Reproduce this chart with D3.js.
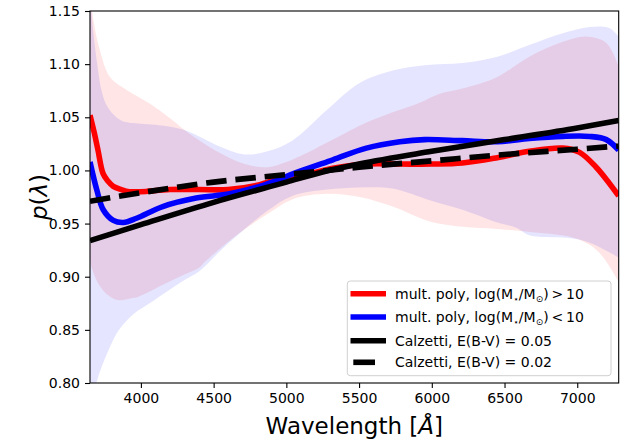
<!DOCTYPE html>
<html>
<head>
<meta charset="utf-8">
<script src="https://cdn.jsdelivr.net/npm/d3@7"></script>
<style>
  html, body { margin: 0; padding: 0; background: #fff; }
  svg { display: block; font-family: "DejaVu Sans", sans-serif; }
</style>
</head>
<body>
<svg id="chart" width="632" height="444"></svg>
<script>
// ---------------- data ----------------
const xTicks = [4000, 4500, 5000, 5500, 6000, 6500, 7000];
const yTicks = [0.80, 0.85, 0.90, 0.95, 1.00, 1.05, 1.10, 1.15];

// red: mult. poly, log(M*/Msun) > 10
const redLine = [[3650,1.052],[3680,1.035],[3705,1.019],[3740,0.997],[3773,0.990],[3810,0.985],[3865,0.982],[3920,0.980],[4000,0.980],[4200,0.982],[4400,0.982],[4600,0.982],[4800,0.986],[4975,0.993],[5160,0.997],[5320,1.002],[5550,1.006],[5780,1.006],[6000,1.006],[6210,1.007],[6450,1.012],[6670,1.018],[6900,1.021],[7016,1.017],[7130,1.003],[7220,0.988],[7285,0.976]];
const redUpper = [[3650,1.19],[3665,1.15],[3718,1.113],[3787,1.088],[3900,1.076],[4060,1.063],[4220,1.047],[4300,1.038],[4405,1.028],[4550,1.016],[4715,1.006],[4870,1.003],[5000,1.008],[5090,1.013],[5320,1.029],[5550,1.045],[5780,1.057],[5920,1.064],[6050,1.072],[6210,1.077],[6450,1.088],[6670,1.107],[6900,1.121],[7060,1.126],[7200,1.120],[7285,1.098]];
const redLower = [[3650,0.916],[3660,0.909],[3718,0.891],[3780,0.882],[3840,0.878],[3945,0.880],[3980,0.881],[4176,0.894],[4300,0.902],[4405,0.909],[4440,0.914],[4666,0.940],[4870,0.959],[5044,0.973],[5278,0.978],[5504,0.975],[5731,0.966],[5985,0.952],[6212,0.947],[6446,0.945],[6672,0.942],[6968,0.937],[7085,0.930],[7174,0.919],[7285,0.895]];

// blue: mult. poly, log(M*/Msun) < 10
const blueLine = [[3650,1.008],[3696,0.982],[3741,0.963],[3810,0.953],[3880,0.951],[3970,0.955],[4150,0.966],[4380,0.974],[4610,0.978],[4840,0.986],[5090,0.999],[5320,1.010],[5550,1.021],[5780,1.027],[5950,1.029],[6210,1.028],[6450,1.027],[6670,1.030],[6900,1.032],[7085,1.032],[7200,1.029],[7285,1.019]];
const blueUpper = [[3650,1.20],[3660,1.15],[3700,1.10],[3730,1.075],[3770,1.060],[3865,1.047],[4000,1.044],[4100,1.043],[4300,1.038],[4550,1.022],[4715,1.015],[4870,1.018],[5040,1.028],[5280,1.057],[5500,1.082],[5730,1.094],[5950,1.099],[6210,1.101],[6450,1.107],[6670,1.118],[6900,1.129],[7085,1.135],[7220,1.134],[7285,1.126]];
const blueLower = [[3650,0.765],[3690,0.798],[3775,0.830],[3850,0.850],[3950,0.865],[4060,0.875],[4200,0.888],[4300,0.897],[4400,0.905],[4550,0.925],[4690,0.942],[4870,0.962],[5040,0.976],[5280,0.982],[5500,0.984],[5730,0.983],[5985,0.972],[6210,0.963],[6450,0.951],[6580,0.946],[6670,0.939],[6970,0.936],[7085,0.932],[7220,0.923],[7285,0.918]];

// Calzetti curves
const calz05 = [[3650,0.934],[4000,0.949],[4500,0.970],[5000,0.989],[5250,0.9985],[5500,1.006],[6000,1.018],[6500,1.029],[7000,1.040],[7285,1.047]];
const calz02 = [[3650,0.971],[4000,0.979],[4500,0.989],[5000,0.996],[5250,0.9995],[5500,1.003],[6000,1.009],[6500,1.015],[7000,1.020],[7285,1.023]];

// ---------------- layout ----------------
const svg = d3.select("#chart");
const L = 90, R = 618.7, T = 11, B = 383;
const x = d3.scaleLinear().domain([3650, 7285]).range([L, R]);
const y = d3.scaleLinear().domain([0.80, 1.15]).range([B, T]);

svg.append("defs").append("clipPath").attr("id", "clip")
  .append("rect").attr("x", L).attr("y", T).attr("width", R - L).attr("height", B - T);

const g = svg.append("g").attr("clip-path", "url(#clip)");

function band(upper, lower) {
  const pts = upper.map(d => [x(d[0]), y(d[1])]);
  const lowPts = lower.slice().reverse().map(d => [x(d[0]), y(d[1])]);
  const up = d3.line().curve(d3.curveCatmullRom.alpha(0.5))(pts);
  const lo = d3.line().curve(d3.curveCatmullRom.alpha(0.5))(lowPts);
  return up + "L" + lo.slice(1) + "Z";
}

g.append("path").attr("d", band(redUpper, redLower))
  .attr("fill", "red").attr("fill-opacity", 0.1);
g.append("path").attr("d", band(blueUpper, blueLower))
  .attr("fill", "blue").attr("fill-opacity", 0.1);

const line = d3.line().x(d => x(d[0])).y(d => y(d[1])).curve(d3.curveCatmullRom.alpha(0.5));
const smooth = d3.line().x(d => x(d[0])).y(d => y(d[1])).curve(d3.curveMonotoneX);
const LW = 5.6;
g.append("path").attr("d", line(redLine)).attr("fill", "none").attr("stroke", "#ff0000").attr("stroke-width", LW);
g.append("path").attr("d", line(blueLine)).attr("fill", "none").attr("stroke", "#0000ff").attr("stroke-width", LW);
g.append("path").attr("d", smooth(calz05)).attr("fill", "none").attr("stroke", "#000").attr("stroke-width", LW);
g.append("path").attr("d", smooth(calz02)).attr("fill", "none").attr("stroke", "#000").attr("stroke-width", LW)
  .attr("stroke-dasharray", "20.5,8.9");

// ---------------- axes ----------------
const xAxis = svg.append("g").attr("transform", `translate(0,${B})`)
  .call(d3.axisBottom(x).tickValues(xTicks).tickSize(5).tickPadding(5).tickFormat(d3.format("d")));
const yAxis = svg.append("g").attr("transform", `translate(${L},0)`)
  .call(d3.axisLeft(y).tickValues(yTicks).tickSize(5).tickPadding(5).tickFormat(d3.format(".2f")));
[xAxis, yAxis].forEach(a => {
  a.select(".domain").remove();
  a.selectAll(".tick line").attr("stroke", "#000").attr("stroke-width", 1.1);
  a.selectAll(".tick text").attr("font-size", 14).attr("fill", "#000")
    .attr("font-family", "DejaVu Sans, sans-serif");
});
svg.append("rect").attr("x", L).attr("y", T).attr("width", R - L).attr("height", B - T)
  .attr("fill", "none").attr("stroke", "#000").attr("stroke-width", 1.1);

// axis labels
const xl = svg.append("text").attr("x", (L + R) / 2).attr("y", 434).attr("text-anchor", "middle")
  .attr("font-size", 23).attr("fill", "#000");
xl.append("tspan").text("Wavelength [");
xl.append("tspan").attr("font-style", "italic").text("Å");
xl.append("tspan").text("]");

const yl = svg.append("text").attr("transform", `translate(47,${(T + B) / 2}) rotate(-90)`)
  .attr("text-anchor", "middle").attr("font-size", 23).attr("fill", "#000");
yl.append("tspan").attr("font-style", "italic").text("p");
yl.append("tspan").text("(");
yl.append("tspan").attr("font-style", "italic").text("λ");
yl.append("tspan").text(")");

// ---------------- legend ----------------
const lg = svg.append("g");
lg.append("rect").attr("x", 347.3).attr("y", 281).attr("width", 611 - 347.3).attr("height", 375.7 - 281)
  .attr("rx", 3).attr("fill", "#fff").attr("fill-opacity", 0.8).attr("stroke", "#d0d0d0").attr("stroke-width", 1);
const rows = [293.7, 317, 340.7, 362.3];
const hx0 = 350.5, hx1 = 386;
lg.append("line").attr("x1", hx0).attr("x2", hx1).attr("y1", rows[0]).attr("y2", rows[0]).attr("stroke", "#ff0000").attr("stroke-width", LW);
lg.append("line").attr("x1", hx0).attr("x2", hx1).attr("y1", rows[1]).attr("y2", rows[1]).attr("stroke", "#0000ff").attr("stroke-width", LW);
lg.append("line").attr("x1", hx0).attr("x2", hx1).attr("y1", rows[2]).attr("y2", rows[2]).attr("stroke", "#000").attr("stroke-width", LW);
lg.append("line").attr("x1", 353.3).attr("x2", 375).attr("y1", rows[3]).attr("y2", rows[3]).attr("stroke", "#000").attr("stroke-width", LW);

function massLabel(row, sym) {
  const t = lg.append("text").attr("x", 395).attr("y", row + 5).attr("font-size", 14).attr("fill", "#000");
  t.append("tspan").text("mult. poly, log(M");
  t.append("tspan").attr("font-size", 9).attr("dy", 3).text("⋆");
  t.append("tspan").attr("dy", -3).text("/M");
  t.append("tspan").attr("font-size", 9).attr("dy", 3).text("⊙");
  t.append("tspan").attr("dy", -3).text(")\u2009" + sym + "\u200910");
}
massLabel(rows[0], ">");
massLabel(rows[1], "<");
lg.append("text").attr("x", 395).attr("y", rows[2] + 5).attr("font-size", 14).text("Calzetti, E(B-V) = 0.05");
lg.append("text").attr("x", 395).attr("y", rows[3] + 5).attr("font-size", 14).text("Calzetti, E(B-V) = 0.02");
</script>
</body>
</html>
